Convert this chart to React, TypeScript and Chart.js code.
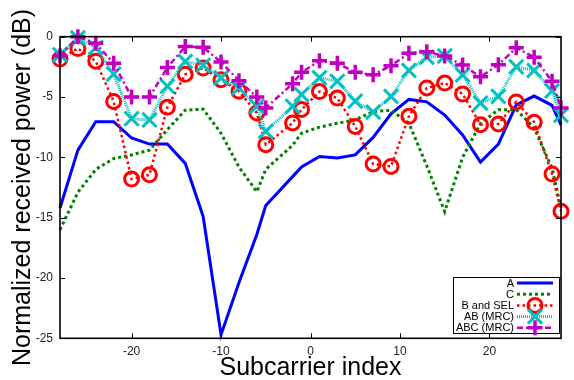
import React, { useEffect, useRef } from "react";
import { Chart, registerables } from "chart.js";

Chart.register(...registerables);

// Subcarrier indices of the reported CSI groups
const subcarriers = [
  -28, -26, -24, -22, -20, -18, -16, -14, -12, -10, -8, -6, -5, -2, -1,
  1, 3, 5, 7, 9, 11, 13, 15, 17, 19, 21, 23, 25, 27, 28,
];

// Normalized received power (dB) per subcarrier
const powerA = [
  -14.2, -9.4, -7.05, -7.05, -8.4, -8.9, -8.9, -10.5, -14.9, -24.7, -20.4, -16.4, -14.0, -11.6, -10.8,
  -9.93, -10.06, -9.8, -8.35, -6.4, -5.2, -5.4, -6.5, -8.14, -10.4, -8.9, -5.65, -4.92, -5.7, -7.3,
];
const powerC = [
  -16.0, -12.9, -11.0, -10.1, -9.8, -9.4, -7.7, -6.1, -6.0, -8.0, -10.8, -12.85, -11.0, -9.0, -8.0,
  -7.5, -7.17, -6.9, -6.2, -6.1, -7.17, -10.7, -14.5, -10.0, -7.2, -6.05, -6.05, -7.56, -10.9, -14.2,
];
const powerBSel = [
  -1.85, -0.98, -2.03, -5.37, -11.8, -11.45, -5.85, -3.12, -2.6, -3.56, -4.52, -6.32, -8.95, -7.15, -6.03,
  -4.55, -5.09, -7.44, -10.55, -10.75, -6.6, -4.25, -3.84, -4.75, -7.29, -7.23, -5.41, -7.09, -11.38, -14.47,
];
const powerAbMrc = [
  -1.5, -0.1, -0.9, -3.1, -6.8, -6.9, -4.1, -2.05, -2.37, -3.42, -4.25, -5.77, -7.84, -5.77, -4.8,
  -3.4, -3.7, -5.35, -6.25, -4.95, -2.8, -1.7, -1.6, -3.17, -5.5, -4.95, -2.5, -2.8, -4.5, -6.5,
];
const powerAbcMrc = [
  -1.6, 0.0, -0.55, -2.2, -5.0, -5.0, -2.55, -0.82, -0.88, -2.1, -3.65, -5.0, -5.9, -3.9, -2.95,
  -2.0, -2.2, -2.95, -3.16, -2.4, -1.38, -1.24, -1.6, -2.34, -3.33, -2.33, -0.92, -1.7, -3.7, -5.9,
];

const seriesLabels = ["A", "C", "B and SEL", "AB (MRC)", "ABC (MRC)"];
const seriesValues = [powerA, powerC, powerBSel, powerAbMrc, powerAbcMrc];

const xTicks = [-20, -10, 0, 10, 20];
const yTicks = [0, -5, -10, -15, -20, -25];

const xTitle = "Subcarrier index";
const yTitle = "Normalized received power (dB)";

const FONT = "'Liberation Sans', Arial, Helvetica, sans-serif";

type SeriesStyle = {
  color: string;
  width: number;
  dash: number[];
  marker: "none" | "circle" | "crossRot" | "cross";
  radius: number;
  markerWidth: number;
};

const styles: SeriesStyle[] = [
  { color: "#0000ff", width: 3, dash: [], marker: "none", radius: 0, markerWidth: 0 },
  { color: "#008000", width: 3, dash: [3, 3], marker: "none", radius: 0, markerWidth: 0 },
  { color: "#ff0000", width: 2.5, dash: [2.5, 3], marker: "circle", radius: 7, markerWidth: 3 },
  { color: "#00c0c0", width: 3, dash: [1, 1], marker: "crossRot", radius: 10, markerWidth: 3 },
  { color: "#c000c0", width: 2.5, dash: [6, 3, 2, 3], marker: "cross", radius: 7.5, markerWidth: 3.5 },
];

function drawMarker(ctx: CanvasRenderingContext2D, s: SeriesStyle, x: number, y: number) {
  if (s.marker === "none") return;
  ctx.save();
  ctx.setLineDash([]);
  ctx.strokeStyle = s.color;
  ctx.lineWidth = s.markerWidth;
  ctx.beginPath();
  if (s.marker === "circle") {
    ctx.arc(x, y, s.radius, 0, Math.PI * 2);
  } else if (s.marker === "cross") {
    ctx.moveTo(x - s.radius, y);
    ctx.lineTo(x + s.radius, y);
    ctx.moveTo(x, y - s.radius);
    ctx.lineTo(x, y + s.radius);
  } else {
    const d = s.radius * Math.SQRT1_2;
    ctx.moveTo(x - d, y - d);
    ctx.lineTo(x + d, y + d);
    ctx.moveTo(x - d, y + d);
    ctx.lineTo(x + d, y - d);
  }
  ctx.stroke();
  ctx.restore();
}

// Frame with inward ticks on all sides, axis titles and the boxed key
const decorPlugin = {
  id: "decor",
  afterDraw(chart: any) {
    const { ctx, chartArea: a, scales } = chart;
    ctx.save();
    ctx.setLineDash([]);
    ctx.strokeStyle = "#000";

    const seg = (x1: number, y1: number, x2: number, y2: number) => {
      ctx.beginPath();
      ctx.moveTo(x1, y1);
      ctx.lineTo(x2, y2);
      ctx.stroke();
    };

    ctx.lineWidth = 1;
    const L = 5;
    xTicks.forEach((v) => {
      const x = Math.round(scales.x.getPixelForValue(v)) + 0.5;
      seg(x, a.bottom, x, a.bottom - L);
      seg(x, a.top, x, a.top + L);
    });
    yTicks.forEach((v) => {
      const y = Math.round(scales.y.getPixelForValue(v)) + 0.5;
      seg(a.left, y, a.left + L, y);
      seg(a.right, y, a.right - L, y);
    });

    ctx.lineWidth = 1.6;
    ctx.strokeRect(a.left, a.top, a.right - a.left, a.bottom - a.top);

    // axis titles
    ctx.fillStyle = "#000";
    ctx.font = `25px ${FONT}`;
    ctx.textAlign = "center";
    ctx.textBaseline = "alphabetic";
    ctx.fillText(xTitle, (a.left + a.right) / 2, 375);

    ctx.save();
    ctx.translate(30, (a.top + a.bottom) / 2);
    ctx.rotate(-Math.PI / 2);
    ctx.fillText(yTitle, 0, 0);
    ctx.restore();

    // key
    const bx = 453.5, by = 277.5, bw = 106, bh = 56;
    ctx.fillStyle = "#fff";
    ctx.fillRect(bx, by, bw, bh);
    ctx.lineWidth = 1;
    ctx.strokeStyle = "#000";
    ctx.strokeRect(bx, by, bw, bh);

    ctx.font = `11px ${FONT}`;
    ctx.textAlign = "right";
    ctx.textBaseline = "middle";
    seriesLabels.forEach((label, i) => {
      const s = styles[i];
      const y = by + 5.5 + i * 11.2;
      ctx.fillStyle = "#000";
      ctx.fillText(label, 514, y + 0.5);
      ctx.save();
      ctx.strokeStyle = s.color;
      ctx.lineWidth = s.width;
      ctx.setLineDash(s.dash);
      seg(517, y, 553, y);
      ctx.restore();
      drawMarker(ctx, s, 535, y);
    });

    ctx.restore();
  },
};

export default function App() {
  const canvasRef = useRef<HTMLCanvasElement | null>(null);

  useEffect(() => {
    document.body.style.margin = "0";
    const canvas = canvasRef.current;
    if (!canvas) return;

    Chart.defaults.font.family = FONT;

    const datasets = seriesLabels.map((label, i) => {
      const s = styles[i];
      return {
        label,
        data: subcarriers.map((x, k) => ({ x, y: seriesValues[i][k] })),
        borderColor: s.color,
        borderWidth: s.width,
        borderDash: s.dash,
        backgroundColor: "rgba(0,0,0,0)",
        fill: false,
        tension: 0,
        pointStyle: s.marker === "none" ? "circle" : s.marker,
        pointRadius: s.radius,
        pointHoverRadius: s.radius,
        pointBorderWidth: s.markerWidth,
        pointBorderColor: s.color,
        pointBackgroundColor: "rgba(0,0,0,0)",
        order: seriesLabels.length - i,
        clip: false as any,
      };
    });

    const chart = new Chart(canvas, {
      type: "line",
      data: { datasets },
      options: {
        responsive: false,
        animation: false,
        devicePixelRatio: 1,
        layout: { padding: { top: 36.7, right: 8, left: 0, bottom: 0 } },
        plugins: {
          legend: { display: false },
          tooltip: { enabled: false },
          title: { display: false },
        },
        scales: {
          x: {
            type: "linear",
            min: -28,
            max: 28,
            afterFit: (s: any) => {
              s.height = 41.7;
            },
            afterBuildTicks: (s: any) => {
              s.ticks = xTicks.map((value) => ({ value }));
            },
            grid: { display: false, drawTicks: false },
            border: { display: false },
            ticks: { color: "#222", font: { size: 12, family: FONT }, padding: 6, maxRotation: 0 },
          },
          y: {
            type: "linear",
            min: -25,
            max: 0,
            afterFit: (s: any) => {
              s.width = 60;
            },
            afterBuildTicks: (s: any) => {
              s.ticks = yTicks.map((value) => ({ value }));
            },
            grid: { display: false, drawTicks: false },
            border: { display: false },
            ticks: { color: "#222", font: { size: 12, family: FONT }, padding: 7 },
          },
        },
      },
      plugins: [decorPlugin],
    });

    return () => chart.destroy();
  }, []);

  return (
    <div style={{ width: 574, height: 380, background: "#fff" }}>
      <canvas ref={canvasRef} width={574} height={380} style={{ display: "block" }} />
    </div>
  );
}
